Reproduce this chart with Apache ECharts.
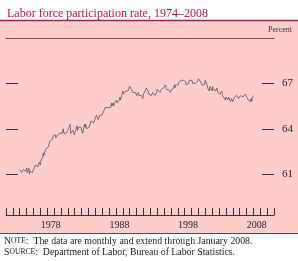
<!DOCTYPE html>
<html>
<head>
<meta charset="utf-8">
<script src="https://cdn.jsdelivr.net/npm/echarts@6/dist/echarts.min.js"></script>
<style>
  html, body { margin: 0; padding: 0; background: #fff; }
  #chart { width: 298px; height: 261px; }
</style>
</head>
<body>
<div id="chart"></div>
<script>
// monthly labor force participation rate, percent, Jan 1974 .. Jan 2008
const startYear = 1974;
const rate1974_1983 = [
  61.3, 61.3, 61.2, 61.1, 61.2, 61.2, 61.3, 61.2, 61.3, 61.3, 61.2, 61.2,
  61.4, 61.1, 61.2, 61.2, 61.4, 61.0, 61.2, 61.2, 61.1, 61.1, 61.1, 61.2,
  61.3, 61.2, 61.3, 61.6, 61.5, 61.5, 61.7, 61.7, 61.5, 61.6, 61.8, 61.8,
  61.6, 61.9, 62.0, 62.0, 62.1, 62.4, 62.2, 62.4, 62.4, 62.4, 62.7, 62.8,
  62.8, 62.7, 62.8, 63.0, 63.0, 63.2, 63.1, 63.2, 63.2, 63.3, 63.5, 63.5,
  63.6, 63.6, 63.6, 63.4, 63.4, 63.5, 63.6, 63.7, 63.6, 63.6, 63.7, 63.8,
  63.8, 63.8, 63.7, 63.8, 64.0, 63.7, 63.8, 63.7, 63.6, 63.7, 63.8, 63.6,
  63.9, 63.9, 64.1, 64.2, 64.3, 63.7, 63.8, 63.8, 63.6, 63.9, 63.9, 63.6,
  63.7, 63.8, 63.8, 63.9, 64.2, 63.9, 64.0, 64.1, 64.1, 64.1, 64.2, 64.1,
  63.9, 63.8, 63.7, 63.8, 63.7, 64.3, 64.1, 64.3, 64.3, 64.0, 64.1, 64.1
];
const rate1984_1995 = [
  63.9, 64.1, 64.1, 64.3, 64.5, 64.6, 64.6, 64.4, 64.4, 64.4, 64.5, 64.6,
  64.7, 64.7, 64.9, 64.9, 64.8, 64.6, 64.7, 64.7, 64.9, 65.0, 64.9, 65.0,
  64.9, 65.0, 65.1, 65.1, 65.2, 65.4, 65.4, 65.3, 65.4, 65.4, 65.4, 65.3,
  65.4, 65.5, 65.5, 65.4, 65.7, 65.5, 65.6, 65.7, 65.5, 65.7, 65.7, 65.7,
  65.8, 65.9, 65.7, 65.8, 65.7, 65.8, 65.9, 66.1, 65.9, 66.0, 66.2, 66.1,
  66.5, 66.3, 66.3, 66.4, 66.3, 66.5, 66.5, 66.5, 66.4, 66.5, 66.6, 66.5,
  66.8, 66.7, 66.7, 66.6, 66.6, 66.4, 66.5, 66.5, 66.4, 66.4, 66.4, 66.4,
  66.2, 66.2, 66.3, 66.4, 66.2, 66.2, 66.1, 66.1, 66.2, 66.1, 66.1, 66.0,
  66.3, 66.2, 66.4, 66.5, 66.6, 66.7, 66.7, 66.6, 66.5, 66.3, 66.4, 66.4,
  66.2, 66.2, 66.2, 66.1, 66.4, 66.5, 66.4, 66.4, 66.2, 66.3, 66.3, 66.4,
  66.6, 66.6, 66.5, 66.6, 66.6, 66.4, 66.4, 66.6, 66.6, 66.7, 66.7, 66.7,
  66.8, 66.8, 66.9, 66.9, 66.6, 66.6, 66.6, 66.5, 66.6, 66.6, 66.5, 66.4
];
const rate1996_2008 = [
  66.4, 66.6, 66.6, 66.7, 66.7, 66.7, 66.9, 66.7, 66.9, 67.0, 66.9, 67.0,
  67.0, 66.9, 67.1, 67.1, 67.1, 67.1, 67.2, 67.1, 67.1, 67.1, 67.2, 67.2,
  67.1, 67.1, 67.1, 66.9, 66.9, 67.0, 67.0, 67.0, 67.2, 67.1, 67.1, 67.2,
  67.2, 67.2, 67.0, 67.1, 67.1, 67.1, 67.0, 67.0, 67.0, 67.0, 67.1, 67.1,
  67.3, 67.3, 67.3, 67.3, 67.1, 67.1, 66.9, 66.9, 66.9, 66.8, 66.9, 67.0,
  67.2, 67.1, 67.2, 66.9, 66.7, 66.7, 66.8, 66.5, 66.8, 66.7, 66.7, 66.7,
  66.5, 66.8, 66.6, 66.7, 66.7, 66.6, 66.5, 66.6, 66.7, 66.6, 66.4, 66.3,
  66.4, 66.4, 66.3, 66.4, 66.4, 66.5, 66.2, 66.1, 66.1, 66.1, 66.1, 65.9,
  66.1, 66.0, 66.0, 65.9, 66.0, 66.1, 66.1, 66.0, 65.8, 65.9, 66.0, 65.9,
  65.8, 65.9, 65.9, 66.1, 66.1, 66.1, 66.1, 66.2, 66.1, 66.1, 66.0, 66.0,
  66.0, 66.1, 66.2, 66.1, 66.1, 66.2, 66.1, 66.2, 66.1, 66.2, 66.3, 66.4,
  66.4, 66.2, 66.2, 65.9, 66.0, 66.0, 66.0, 65.8, 66.0, 65.8, 66.0, 66.0,
  66.2
];

const yTicks = [61, 64, 67];
const xLabelYears = [1978, 1988, 1998, 2008];

const rates = rate1974_1983.concat(rate1984_1995, rate1996_2008);
// x = start of each month as fractional year
const lineData = rates.map((v, i) => [startYear + i / 12, v]);

const serif = "'Liberation Serif', 'DejaVu Serif', serif";
const red = "#a3234a";

const chart = echarts.init(document.getElementById("chart"));

chart.setOption({
  animation: false,
  backgroundColor: "#fff",
  title: {
    text: "Labor force participation rate, 1974\u20132008",
    left: 2,
    top: 3,
    textStyle: { color: red, fontFamily: serif, fontWeight: "normal", fontSize: 12 }
  },
  graphic: [
    { type: "rect", z: -10, shape: { x: 0, y: 20, width: 298, height: 213 }, style: { fill: "#ffcccc" } },
    { type: "line", shape: { x1: 0, y1: 20.5, x2: 298, y2: 20.5 }, style: { stroke: red, lineWidth: 1.5 } },
    { type: "line", shape: { x1: 0, y1: 233.5, x2: 298, y2: 233.5 }, style: { stroke: red, lineWidth: 1 } },
    {
      type: "text", left: 268, top: 26,
      style: { text: "Percent", fill: "#333", font: "8px " + serif }
    },
    {
      type: "text", left: 4, top: 236,
      style: {
        text: "{b|N}{s|OTE}{b|:  The data are monthly and extend through January 2008.}",
        fill: "#222",
        rich: {
          b: { fontFamily: serif, fontSize: 9.8, fill: "#222" },
          s: { fontFamily: serif, fontSize: 7.6, fill: "#222" }
        }
      }
    },
    {
      type: "text", left: 4, top: 247,
      style: {
        text: "{b|S}{s|OURCE}{b|:  Department of Labor, Bureau of Labor Statistics.}",
        fill: "#222",
        rich: {
          b: { fontFamily: serif, fontSize: 9.8, fill: "#222" },
          s: { fontFamily: serif, fontSize: 7.6, fill: "#222" }
        }
      }
    }
  ],
  grid: { left: 6, top: 38, width: 268, height: 177 },
  xAxis: [
    {
      type: "value",
      min: 1972,
      max: 2011,
      interval: 1,
      axisLine: { lineStyle: { color: "#333", width: 1 } },
      axisTick: { inside: true, length: 7, lineStyle: { color: "#333" } },
      axisLabel: {
        customValues: xLabelYears.map(y => y + 0.5),
        formatter: v => String(Math.floor(v)),
        color: "#222",
        fontFamily: serif,
        fontSize: 10,
        margin: 5
      },
      splitLine: { show: false }
    },
    {
      type: "value",
      position: "top",
      min: 1972,
      max: 2011,
      axisLine: { lineStyle: { color: "#555", width: 1 } },
      axisTick: { show: false },
      axisLabel: { show: false },
      splitLine: { show: false }
    }
  ],
  yAxis: [
    {
      type: "value",
      position: "left",
      min: 58.3,
      max: 70,
      axisLine: { show: false },
      axisTick: { inside: true, length: 12, customValues: yTicks, lineStyle: { color: "#333" } },
      axisLabel: { show: false },
      splitLine: { show: false }
    },
    {
      type: "value",
      position: "right",
      min: 58.3,
      max: 70,
      axisLine: { show: false },
      axisTick: { inside: true, length: 12, customValues: yTicks, lineStyle: { color: "#333" } },
      axisLabel: {
        customValues: yTicks,
        color: "#222",
        fontFamily: serif,
        fontSize: 11,
        margin: 8
      },
      splitLine: { show: false }
    }
  ],
  series: [{
    type: "line",
    data: lineData,
    showSymbol: false,
    lineStyle: { color: "#555", width: 0.8 }
  }]
});
</script>
</body>
</html>
